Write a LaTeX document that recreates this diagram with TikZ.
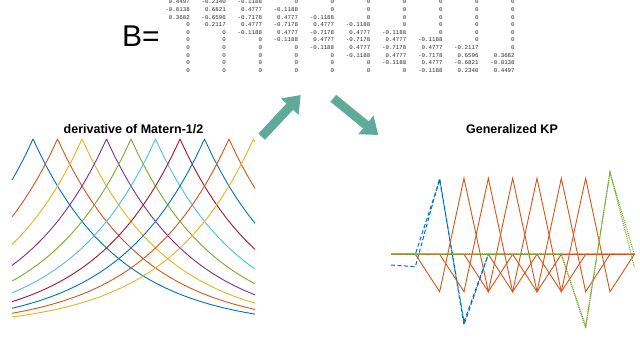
\documentclass[tikz,border=0pt]{standalone}
\usepackage{fontspec}
\setmainfont{Liberation Sans}
\newfontfamily\monofont{Liberation Mono}
\usetikzlibrary{arrows.meta}
\definecolor{mblue}{rgb}{0,0.447,0.741}
\definecolor{morange}{rgb}{0.85,0.325,0.098}
\definecolor{myellow}{rgb}{0.929,0.694,0.125}
\definecolor{mpurple}{rgb}{0.494,0.184,0.556}
\definecolor{mgreen}{rgb}{0.466,0.674,0.188}
\definecolor{mcyan}{rgb}{0.301,0.745,0.933}
\definecolor{mred}{rgb}{0.635,0.078,0.184}
\definecolor{arrowteal}{RGB}{96,170,154}
\begin{document}
\begin{tikzpicture}[x=1pt,y=-1pt,
  mat/.style={anchor=east,inner sep=0pt,font=\monofont\fontsize{5.8}{6}\selectfont,text=black!85},
  ttl/.style={inner sep=0pt,font=\fontsize{12.5}{12.5}\selectfont\bfseries},
  bigarrow/.style={arrowteal,line width=9pt,-{Triangle[length=16pt,width=23pt]}},
  curve/.style={line width=0.9pt,line join=miter},
  kporange/.style={morange,line width=0.9pt},
  kpblue/.style={mblue,line width=1pt,dash pattern=on 4pt off 2.5pt},
  kpgreen/.style={mgreen,line width=1.1pt,dash pattern=on 1pt off 0.9pt}]
\useasboundingbox (0,0) rectangle (640,339);

% B = matrix
\node[inner sep=0pt,font=\fontsize{30}{30}\selectfont] (Blabel) at (141,36) {B=};
\foreach \row [count=\i] in {
 {0.4497,-0.2340,-0.1188,0,0,0,0,0,0,0},
 {-0.8138,0.6821,0.4777,-0.1188,0,0,0,0,0,0},
 {0.3682,-0.6596,-0.7178,0.4777,-0.1188,0,0,0,0,0},
 {0,0.2117,0.4777,-0.7178,0.4777,-0.1188,0,0,0,0},
 {0,0,-0.1188,0.4777,-0.7178,0.4777,-0.1188,0,0,0},
 {0,0,0,-0.1188,0.4777,-0.7178,0.4777,-0.1188,0,0},
 {0,0,0,0,-0.1188,0.4777,-0.7178,0.4777,-0.2117,0},
 {0,0,0,0,0,-0.1188,0.4777,-0.7178,0.6596,0.3682},
 {0,0,0,0,0,0,-0.1188,0.4777,-0.6821,-0.8138},
 {0,0,0,0,0,0,0,-0.1188,0.2340,0.4497}}
{
  \foreach \v [count=\j] in \row {
    \node[mat] (m\i-\j) at ({190+36.1*(\j-1)},{1.9+7.6*(\i-1)}) {\v};
  }
}

% arrows
\coordinate (a1s) at (261.7,136.7);
\coordinate (a1e) at (300.7,95);
\coordinate (a2s) at (333.3,98.3);
\coordinate (a2e) at (378.3,135);
\draw[bigarrow] (a1s) -- (a1e);
\draw[bigarrow] (a2s) -- (a2e);

% left plot
\node[ttl] (ltitle) at (133.5,129) {derivative of Matern-1/2};
\foreach \k/\c in {1/mblue,2/morange,3/myellow,4/mpurple,5/mgreen,6/mcyan,7/mred,8/mblue,9/morange,10/myellow}{
  \pgfmathsetmacro\P{33+24.5*(\k-1)}
  \draw[curve,\c] plot[domain=12:\P,samples=40] (\x,{317-178*(exp(-abs(\x-\P)/85.75)-0.0598)/0.9402})
     -- plot[domain=\P:255,samples=40] (\x,{317-178*(exp(-abs(\x-\P)/85.75)-0.0598)/0.9402});
}

% right plot
\node[ttl] (rtitle) at (512,129) {Generalized KP};
\def\nx#1{391+24.33*(#1)}
\draw[kpblue] (391,265) -- ({\nx{1}},266.7) -- ({\nx{2}},178.3) -- ({\nx{3}},325) -- ({\nx{4}},254.3) -- (634.3,254.3);
\draw[kpblue] (391,254.3) -- ({\nx{1}},254.3) -- ({\nx{2}},180) -- ({\nx{3}},322) -- ({\nx{4}},254.3) -- (634.3,254.3);
\foreach \c in {3,...,8}{
  \draw[kporange] (391,254.3) -- ({\nx{\c-2}},254.3) -- ({\nx{\c-1}},291.7) -- ({\nx{\c}},178.3)
     -- ({\nx{\c+1}},291.7) -- ({\nx{\c+2}},254.3) -- (634.3,254.3);
}
\draw[kpgreen] (391,254.3) -- ({\nx{7}},254.3) -- ({\nx{8}},326) -- ({\nx{9}},173) -- (634.3,254.3);
\draw[kpgreen] (391,254.3) -- ({\nx{7}},254.3) -- ({\nx{8}},328.3) -- ({\nx{9}},171.7) -- (634.3,266.7);
\end{tikzpicture}
\end{document}
